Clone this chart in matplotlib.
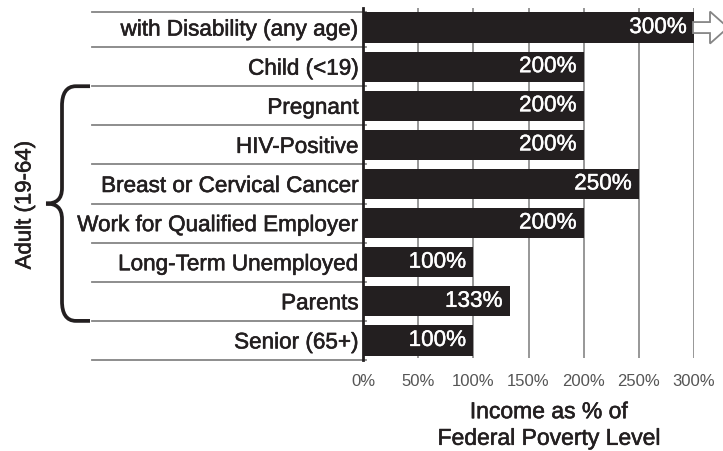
import matplotlib
matplotlib.use("Agg")
import matplotlib.pyplot as plt
import matplotlib.patheffects as pe
import numpy as np
from matplotlib.path import Path
from matplotlib.patches import PathPatch, Polygon
from matplotlib.lines import Line2D
from matplotlib.transforms import blended_transform_factory

plt.rcParams['font.family'] = ['Liberation Sans', 'DejaVu Sans']

categories = ["with Disability (any age)", "Child (<19)", "Pregnant", "HIV-Positive",
              "Breast or Cervical Cancer", "Work for Qualified Employer",
              "Long-Term Unemployed", "Parents", "Senior (65+)"]
values = [300, 200, 200, 200, 250, 200, 100, 133, 100]
value_labels = ["300%", "200%", "200%", "200%", "250%", "200%", "100%", "133%", "100%"]
xticks = [0, 50, 100, 150, 200, 250, 300]
xtick_labels = ["0%", "50%", "100%", "150%", "200%", "250%", "300%"]
group_label = "Adult (19-64)"
group_rows = (2, 7)
xlabel = "Income as % of\nFederal Poverty Level"

W, H = 723, 451
DARK = '#231f20'
GRAY = '#858585'

def bold(c, w=0.4):
    return [pe.withStroke(linewidth=w, foreground=c)]

fig = plt.figure(figsize=(W / 100, H / 100), dpi=100)
ax = fig.add_axes([363 / W, 1 - 360 / H, 331 / W, 352 / H])

y = np.arange(len(categories))
ax.barh(y, values, height=0.77, color=DARK, zorder=3)
ax.set_xlim(0, 300)
ax.set_ylim(len(categories) - 0.5, -0.5)

# gridlines
ax.vlines(xticks[1:], len(categories) - 0.55, -0.5, colors=GRAY, lw=1.2, zorder=1)

# row separators
tr = blended_transform_factory(fig.transFigure, ax.transData)
seps = list(np.arange(0.5, len(categories), 1.0)) + [-0.41]
for s_ in seps:
    ax.add_line(Line2D([92 / W, 366 / W], [s_, s_], transform=tr, color=GRAY, lw=1.3,
                       clip_on=False, zorder=2))

for s in ['top', 'right', 'bottom']:
    ax.spines[s].set_visible(False)
ax.spines['left'].set_linewidth(2)
ax.spines['left'].set_color(DARK)
ax.spines['left'].set_zorder(5)

ax.set_yticks(y)
ax.set_yticklabels(categories, fontsize=16.2, color=DARK)
for lab in ax.get_yticklabels():
    lab.set_path_effects(bold(DARK))
ax.tick_params(axis='y', length=0, pad=3)
ax.set_xticks(xticks)
ax.set_xticklabels(xtick_labels, fontsize=12, color='#555555')
ax.tick_params(axis='x', length=0, pad=10)

for i, (v, lab) in enumerate(zip(values, value_labels)):
    ax.annotate(lab, xy=(v, i), xytext=(-7, 0), textcoords='offset pixels',
                ha='right', va='center', color='white', fontsize=16.2, zorder=4,
                path_effects=bold('white', 0.3))

# arrow beyond the top bar
fig.canvas.draw()
px, py = ax.transData.transform((values[0], 0))
pts = [(-1, 5.5), (16, 5.5), (16, 16), (34, 0), (16, -16), (16, -5.5), (-1, -5.5)]
poly = Polygon([(px + dx, py + dy) for dx, dy in pts], closed=True, transform=None,
               facecolor='white', edgecolor=GRAY, lw=1.3, clip_on=False, zorder=6)
fig.add_artist(poly)

# brace
t, b = group_rows[0] - 0.5, group_rows[1] + 0.5
m = (t + b) / 2
def fx(p):
    return p / W
verts = [
    (fx(90), t), (fx(76), t),
    (fx(66), t), (fx(62), t + 0.2), (fx(62), t + 0.5),
    (fx(62), m - 0.4),
    (fx(62), m - 0.1), (fx(56), m), (fx(46), m),
    (fx(56), m), (fx(62), m + 0.1), (fx(62), m + 0.4),
    (fx(62), b - 0.5),
    (fx(62), b - 0.2), (fx(66), b), (fx(76), b),
    (fx(90), b),
]
codes = [Path.MOVETO, Path.LINETO,
         Path.CURVE4, Path.CURVE4, Path.CURVE4,
         Path.LINETO,
         Path.CURVE4, Path.CURVE4, Path.CURVE4,
         Path.CURVE4, Path.CURVE4, Path.CURVE4,
         Path.LINETO,
         Path.CURVE4, Path.CURVE4, Path.CURVE4,
         Path.LINETO]
ax.add_patch(PathPatch(Path(verts, codes), transform=tr, facecolor='none',
                       edgecolor=DARK, lw=2.7, clip_on=False, capstyle='butt'))

fig.text(25 / W, 1 - 205 / H, group_label, rotation=90, ha='center', va='center',
         fontsize=16, color=DARK, path_effects=bold(DARK))
fig.text(549 / W, 1 - 425 / H, xlabel, ha='center', va='center', fontsize=16.5,
         color=DARK, linespacing=1.2, path_effects=bold(DARK))

fig.savefig('out.png', dpi=100)
